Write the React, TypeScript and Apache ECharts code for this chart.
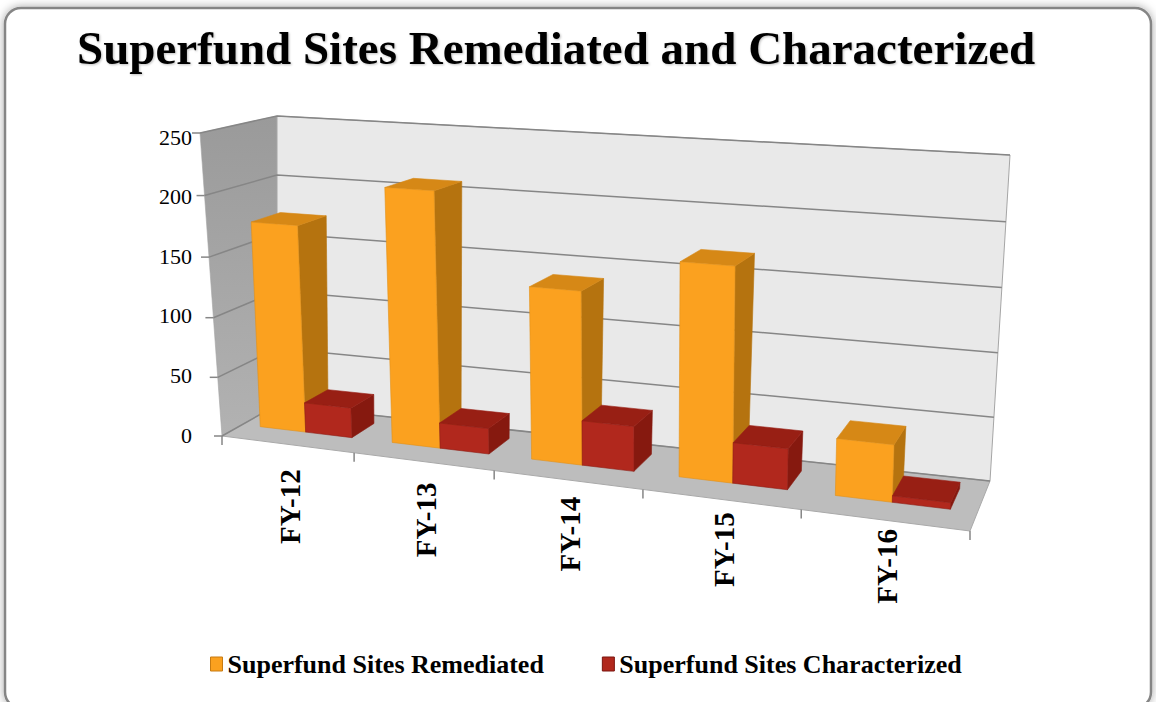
import React, { useEffect, useRef } from "react";
import * as echarts from "echarts";

const categories = ["FY-12", "FY-13", "FY-14", "FY-15", "FY-16"];
const remediated = [173, 209, 139, 168, 44];
const characterized = [25, 21, 36, 32, 5];
const yTicks = [0, 50, 100, 150, 200, 250];
const seriesNames = ["Superfund Sites Remediated", "Superfund Sites Characterized"];
const titleText = "Superfund Sites Remediated and Characterized";

const SERIF = '"Liberation Serif", "Times New Roman", serif';

type Pt = [number, number];
// projection frame of the 3D box (front plane and back wall), TL, TR, BR, BL
const FRONT: Pt[] = [[200, 133], [980, 180], [970, 531], [222, 436]];
const BACK: Pt[] = [[277, 116], [1010, 155], [990, 481], [277, 405]];

function homog(q: Pt[]) {
  const [[x0, y0], [x1, y1], [x2, y2], [x3, y3]] = q;
  const dx1 = x1 - x2, dx2 = x3 - x2, dx3 = x0 - x1 + x2 - x3;
  const dy1 = y1 - y2, dy2 = y3 - y2, dy3 = y0 - y1 + y2 - y3;
  const den = dx1 * dy2 - dx2 * dy1;
  const g = (dx3 * dy2 - dx2 * dy3) / den;
  const h = (dx1 * dy3 - dx3 * dy1) / den;
  const a = x1 - x0 + g * x1, b = x3 - x0 + h * x3, c = x0;
  const d = y1 - y0 + g * y1, e = y3 - y0 + h * y3, f = y0;
  return (u: number, v: number): Pt => {
    const w = g * u + h * v + 1;
    return [(a * u + b * v + c) / w, (d * u + e * v + f) / w];
  };
}
const Hf = homog(FRONT);
const Hb = homog(BACK);
const P = (s: number, v: number, dep: number): Pt => {
  const a = Hf(s, v), b = Hb(s, v);
  return [a[0] + (b[0] - a[0]) * dep, a[1] + (b[1] - a[1]) * dep];
};

const BAR_F = [0.14, 0.49, 0.84];
const DEPTH_FRONT = 0.37;
const DEPTH_BACK = 0.79;

const COLORS = [
  { front: "#FBA11F", side: "#B5730F", top: "#D68816", stroke: "#E0901A" },
  { front: "#B1281D", side: "#86190F", top: "#981F14", stroke: "#8E1D14" },
];

const poly = (pts: Pt[], fill: any, stroke?: string, lw = 0.6) => ({
  type: "polygon",
  shape: { points: pts },
  style: { fill, stroke: stroke || fill, lineWidth: lw },
});

const makeBarRender = (k: number) => (params: any, api: any) => {
  const cs = params.coordSys;
  const cat = api.value(0);
  const val = api.value(1);
  const top = api.coord([cat, val]);
  const bot = api.coord([cat, 0]);
  const band = api.size([1, 0])[0];
  const left = top[0] - band / 2;
  const s0 = (left + band * BAR_F[k] - cs.x) / cs.width;
  const s1 = (left + band * BAR_F[k + 1] - cs.x) / cs.width;
  const vt = (top[1] - cs.y) / cs.height;
  const vb = (bot[1] - cs.y) / cs.height;
  const df = DEPTH_FRONT, db = DEPTH_BACK;
  const c = COLORS[k];
  return {
    type: "group",
    children: [
      poly([P(s1, vt, df), P(s1, vt, db), P(s1, vb, db), P(s1, vb, df)], c.side, c.side),
      poly([P(s0, vt, df), P(s1, vt, df), P(s1, vt, db), P(s0, vt, db)], c.top, c.top),
      poly([P(s0, vt, df), P(s1, vt, df), P(s1, vb, df), P(s0, vb, df)], c.front, c.stroke),
    ],
  };
};

const renderFrame = (params: any, api: any) => {
  const cs = params.coordSys;
  const vOf = (val: number) => (api.coord([0, val])[1] - cs.y) / cs.height;
  const band = api.size([1, 0])[0];
  const sOf = (i: number) => (api.coord([i, 0])[0] - band / 2 - cs.x) / cs.width;
  const v0 = vOf(0);
  const vMax = vOf(yTicks[yTicks.length - 1]);
  const sL = sOf(0), sR = sOf(categories.length);
  const children: any[] = [];
  // side wall
  const sideFill = new echarts.graphic.LinearGradient(0, 0, 0, 1, [
    { offset: 0, color: "#9A9A9A" },
    { offset: 1, color: "#B2B2B2" },
  ]);
  children.push(poly([Hf(sL, vMax), Hb(sL, vMax), Hb(sL, v0), Hf(sL, v0)], sideFill, "#A5A5A5"));
  // floor
  children.push(poly([Hf(sL, v0), Hf(sR, v0), Hb(sR, v0), Hb(sL, v0)], "#BDBDBD", "#A9A9A9", 1));
  // back wall
  children.push(poly([Hb(sL, vMax), Hb(sR, vMax), Hb(sR, v0), Hb(sL, v0)], "#E9E9E9", "#A5A5A5", 1));
  // gridlines
  yTicks.forEach((t) => {
    const v = vOf(t);
    children.push({ type: "polyline", shape: { points: [Hf(sL, v), Hb(sL, v), Hb(sR, v)] }, style: { stroke: "#868686", lineWidth: 1.5, fill: null } });
    const p = Hf(sL, v);
    children.push({ type: "line", shape: { x1: p[0] - 8, y1: p[1], x2: p[0], y2: p[1] }, style: { stroke: "#868686", lineWidth: 1.5 } });
  });
  // category ticks
  for (let i = 0; i <= categories.length; i++) {
    const p = Hf(sOf(i), v0);
    children.push({ type: "line", shape: { x1: p[0], y1: p[1], x2: p[0], y2: p[1] + 9 }, style: { stroke: "#868686", lineWidth: 1.5 } });
  }
  // category labels
  categories.forEach((name, i) => {
    const sc = (sOf(i) + sOf(i + 1)) / 2;
    const p = Hf(sc, v0);
    children.push({
      type: "text",
      x: p[0] + 3,
      y: p[1] + 27 - 20 * sc,
      rotation: Math.PI / 2,
      style: { text: name, fontSize: 29, fontFamily: SERIF, fontWeight: "bold", fill: "#000", align: "right", verticalAlign: "middle" },
    });
  });
  return { type: "group", children };
};

export default function App() {
  const ref = useRef<HTMLDivElement>(null);
  useEffect(() => {
    const chart = echarts.init(ref.current!, null, { renderer: "svg" });
    const option: any = {
      animation: false,
      backgroundColor: "#ffffff",
      graphic: [
        {
          type: "rect",
          z: 0,
          shape: { x: 5, y: 8, width: 1146, height: 700, r: 16 },
          style: { fill: "#ffffff", stroke: "#858585", lineWidth: 2.5, shadowBlur: 10, shadowColor: "rgba(0,0,0,0.35)" },
        },
      ],
      title: {
        text: titleText,
        left: 77,
        top: 24,
        padding: 0,
        textStyle: { fontFamily: SERIF, fontSize: 47, fontWeight: "bold", color: "#000", textShadowColor: "rgba(0,0,0,0.25)", textShadowBlur: 2, textShadowOffsetX: 1, textShadowOffsetY: 1 },
      },
      legend: {
        left: 205,
        top: 646,
        itemWidth: 12,
        itemHeight: 14,
        itemGap: 58,
        icon: "rect",
        selectedMode: false,
        textStyle: { fontFamily: SERIF, fontSize: 26, fontWeight: "bold", color: "#000" },
        data: [
          { name: seriesNames[0], itemStyle: { color: COLORS[0].front, borderColor: "#C77B12", borderWidth: 1 } },
          { name: seriesNames[1], itemStyle: { color: COLORS[1].front, borderColor: "#7A150E", borderWidth: 1 } },
        ],
      },
      grid: { left: 200, top: 137, width: 770, height: 298, containLabel: false },
      xAxis: { type: "category", data: categories, show: false },
      yAxis: {
        type: "value",
        min: 0,
        max: 250,
        interval: 50,
        axisLine: { show: false },
        axisTick: { show: false },
        splitLine: { show: false },
        axisLabel: { fontFamily: SERIF, fontSize: 22, color: "#000", margin: 8 },
      },
      series: [
        {
          type: "custom",
          name: "frame",
          z: 1,
          silent: true,
          renderItem: renderFrame,
          data: [[0, 0]],
          encode: { x: 0, y: 1 },
        },
        {
          type: "custom",
          name: seriesNames[0],
          z: 3,
          itemStyle: { color: COLORS[0].front },
          renderItem: makeBarRender(0),
          data: remediated.map((v, i) => [i, v]),
          encode: { x: 0, y: 1 },
        },
        {
          type: "custom",
          name: seriesNames[1],
          z: 4,
          itemStyle: { color: COLORS[1].front },
          renderItem: makeBarRender(1),
          data: characterized.map((v, i) => [i, v]),
          encode: { x: 0, y: 1 },
        },
      ],
    };
    chart.setOption(option);
    return () => chart.dispose();
  }, []);
  return <div ref={ref} style={{ position: "absolute", left: 0, top: 0, width: 1156, height: 702, background: "#fff" }} />;
}
